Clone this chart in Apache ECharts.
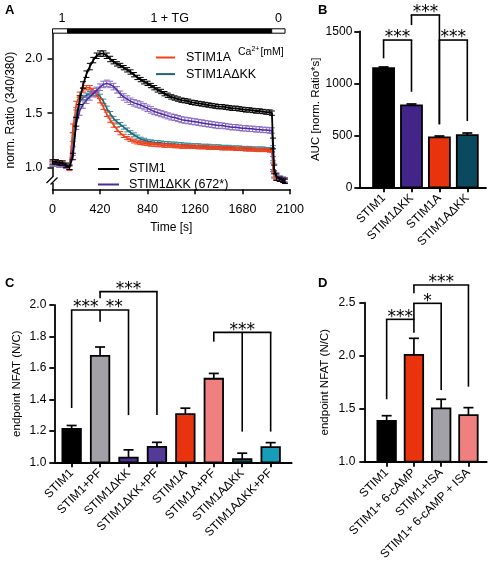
<!DOCTYPE html>
<html><head><meta charset="utf-8">
<script src="https://cdn.jsdelivr.net/npm/echarts@6/dist/echarts.min.js"></script>
<style>html,body{margin:0;padding:0;background:#fff}#c{width:490px;height:563px}</style>
</head><body><div id="c"></div>
<script>
// ---------- Panel A data ----------
const timeSec = [0,30,60,90,120,150,180,210,240,270,300,330,360,390,420,450,480,510,540,570,600,630,660,690,720,750,780,810,840,870,900,930,960,990,1020,1050,1080,1110,1140,1170,1200,1230,1260,1290,1320,1350,1380,1410,1440,1470,1500,1530,1560,1590,1620,1650,1680,1710,1740,1770,1800,1830,1860,1890,1920,1940,1950,1960,1980,2010,2040,2055];
const ratioSTIM1 = [1.05,1.05,1.04,1.04,1.02,1.00,1.10,1.42,1.62,1.76,
1.86,1.93,1.99,2.03,2.05,2.05,2.03,2.00,1.975,1.955,
1.94,1.92,1.90,1.88,1.855,1.83,1.81,1.79,1.775,1.755,
1.735,1.715,1.70,1.68,1.665,1.65,1.64,1.63,1.62,1.615,
1.61,1.60,1.595,1.59,1.585,1.58,1.575,1.57,1.565,1.56,
1.56,1.555,1.55,1.545,1.545,1.54,1.535,1.53,1.53,1.525,
1.52,1.52,1.515,1.51,1.51,1.50,1.22,0.98,0.91,0.89,
0.88,0.87];
const ratioSTIM1dKK = [1.03,1.04,1.02,1.02,1.01,1.00,1.15,1.40,1.52,1.58,
1.62,1.65,1.68,1.71,1.74,1.765,1.775,1.765,1.745,1.715,
1.675,1.65,1.63,1.61,1.595,1.585,1.575,1.56,1.545,1.53,
1.515,1.505,1.495,1.485,1.475,1.465,1.46,1.45,1.44,1.435,
1.43,1.425,1.42,1.415,1.41,1.405,1.40,1.395,1.39,1.385,
1.385,1.38,1.375,1.37,1.37,1.365,1.36,1.36,1.355,1.355,
1.35,1.35,1.345,1.345,1.34,1.34,1.15,0.99,0.92,0.90,
0.89,0.88];
const ratioSTIM1A = [1.04,1.05,1.04,1.03,1.01,0.99,1.36,1.58,1.67,1.715,
1.735,1.735,1.71,1.67,1.615,1.555,1.49,1.435,1.39,1.35,
1.315,1.29,1.27,1.255,1.24,1.23,1.225,1.22,1.215,1.21,
1.21,1.205,1.205,1.20,1.20,1.20,1.195,1.195,1.19,1.19,
1.19,1.19,1.19,1.185,1.185,1.185,1.18,1.18,1.18,1.18,
1.175,1.175,1.175,1.175,1.17,1.17,1.17,1.165,1.165,1.165,
1.16,1.16,1.16,1.16,1.155,1.155,1.00,0.93,0.90,0.89,
0.885,0.88];
const ratioSTIM1AdKK = [1.03,1.03,1.02,1.02,1.01,1.00,1.28,1.50,1.60,1.645,
1.665,1.68,1.685,1.68,1.655,1.61,1.545,1.495,1.45,1.42,
1.395,1.37,1.345,1.32,1.30,1.28,1.26,1.25,1.24,1.235,
1.23,1.23,1.225,1.22,1.22,1.215,1.215,1.21,1.21,1.205,
1.205,1.20,1.20,1.20,1.195,1.195,1.195,1.19,1.19,1.19,
1.185,1.185,1.185,1.18,1.18,1.18,1.175,1.175,1.175,1.17,
1.17,1.17,1.17,1.165,1.165,1.165,1.02,0.94,0.91,0.90,
0.89,0.885];
const semSTIM1 = [0.02,0.02,0.02,0.02,0.02,0.02,0.03,0.04,0.04,0.03,
0.03,0.03,0.025,0.025,0.025,0.025,0.025,0.025,0.02,0.02,
0.02,0.02,0.02,0.02,0.02,0.02,0.02,0.02,0.02,0.02,
0.02,0.02,0.02,0.02,0.02,0.02,0.02,0.02,0.02,0.02,
0.02,0.02,0.02,0.02,0.02,0.02,0.02,0.02,0.02,0.02,
0.02,0.02,0.02,0.02,0.02,0.02,0.02,0.02,0.02,0.02,
0.02,0.02,0.02,0.02,0.02,0.02,0.05,0.04,0.03,0.02,
0.02,0.02];
const semSTIM1dKK = [0.02,0.02,0.02,0.02,0.02,0.02,0.04,0.05,0.04,0.035,
0.03,0.03,0.03,0.03,0.03,0.03,0.03,0.03,0.03,0.03,
0.03,0.03,0.03,0.03,0.03,0.03,0.03,0.03,0.03,0.03,
0.028,0.028,0.028,0.028,0.028,0.028,0.028,0.028,0.028,0.028,
0.028,0.028,0.028,0.028,0.028,0.028,0.028,0.028,0.028,0.028,
0.025,0.025,0.025,0.025,0.025,0.025,0.025,0.025,0.025,0.025,
0.025,0.025,0.025,0.025,0.025,0.025,0.05,0.04,0.03,0.02,
0.02,0.02];
const semSTIM1A = [0.02,0.02,0.02,0.02,0.02,0.02,0.04,0.03,0.025,0.02,
0.02,0.02,0.02,0.02,0.02,0.02,0.02,0.02,0.02,0.02,
0.015,0.015,0.015,0.015,0.015,0.015,0.015,0.015,0.015,0.015,
0.015,0.015,0.015,0.015,0.015,0.015,0.015,0.015,0.015,0.015,
0.015,0.015,0.015,0.015,0.015,0.015,0.015,0.015,0.015,0.015,
0.015,0.015,0.015,0.015,0.015,0.015,0.015,0.015,0.015,0.015,
0.015,0.015,0.015,0.015,0.015,0.015,0.04,0.03,0.02,0.02,
0.02,0.02];
const semSTIM1AdKK = [0.02,0.02,0.02,0.02,0.02,0.02,0.04,0.03,0.025,0.02,
0.02,0.02,0.02,0.02,0.02,0.02,0.02,0.02,0.02,0.02,
0.018,0.018,0.018,0.018,0.018,0.018,0.018,0.018,0.018,0.018,
0.018,0.018,0.018,0.018,0.018,0.018,0.018,0.018,0.018,0.018,
0.018,0.018,0.018,0.018,0.018,0.018,0.018,0.018,0.018,0.018,
0.018,0.018,0.018,0.018,0.018,0.018,0.018,0.018,0.018,0.018,
0.018,0.018,0.018,0.018,0.018,0.018,0.04,0.03,0.02,0.02,
0.02,0.02];
const yTicksA = [1.0, 1.5, 2.0];
const caSegments = [[0,134],[134,1938],[1938,2056]];
const caLabels = ['1','1 + TG','0'];

// ---------- Panel B data ----------
const catsB = ['STIM1','STIM1ΔKK','STIM1A','STIM1AΔKK'];
const aucB = [1145, 787, 481, 502];
const aucErrB = [12, 14, 12, 20];
const bracketsB = [
  {legs:[[0,1240],[1,919]], y:1416, labels:[[0.5,'***']]},
  {legs:[[1,1560],[2,606]], y:1657, labels:[[1.5,'***']]},
  {legs:[[2,606],[3,637]], y:1416, labels:[[2.5,'***']]}
];

// ---------- Panel C data ----------
const catsC = ['STIM1','STIM1+PF','STIM1ΔKK','STIM1ΔKK+PF','STIM1A','STIM1A+PF','STIM1AΔKK','STIM1AΔKK+PF'];
const nfatC = [1.213, 1.677, 1.030, 1.098, 1.306, 1.531, 1.020, 1.096];
const nfatErrC = [0.021, 0.056, 0.049, 0.029, 0.038, 0.034, 0.038, 0.029];
const bracketsC = [
  {legs:[[0,1.345],[1,1.894],[2,1.30]], y:1.968, labels:[[0.5,'***'],[1.5,'**']]},
  {legs:[[1,2.043],[3,1.30]], y:2.085, labels:[[2,'***']]},
  {legs:[[5,1.767],[6,1.195],[7,1.195]], y:1.826, labels:[[6,'***']]}
];

// ---------- Panel D data ----------
const catsD = ['STIM1','STIM1+ 6-cAMP','STIM1+ISA','STIM1+ 6-cAMP + ISA'];
const nfatD = [1.384, 2.007, 1.504, 1.440];
const nfatErrD = [0.05, 0.157, 0.085, 0.07];
const bracketsD = [
  {legs:[[0,1.589],[1,2.217]], y:2.343, labels:[[0.5,'***']]},
  {legs:[[1,2.343],[2,1.676]], y:2.494, labels:[[1.5,'*']]},
  {legs:[[1,2.59],[3,1.708]], y:2.667, labels:[[2,'***']]}
];

// ---------- styles ----------
const SANS = "'Liberation Sans',Arial,sans-serif";
const STAR = "'DejaVu Sans',sans-serif";
const colorsB = ['#000000','#432489','#e8330e','#0b4a5e'];
const colorsC = ['#000000','#a3a1a8','#4a2f8c','#533a96','#e8330e','#f08080','#0d4c5c','#169db8'];
const colorsD = ['#000000','#e8330e','#a3a1a8','#f08080'];

const chart = echarts.init(document.getElementById('c'));

function errSeries(name, times, vals, errs, color, z) {
  return {
    type:'custom', name:name, xAxisIndex:0, yAxisIndex:0, z:z, silent:true,
    data: times.map((t,i)=>[t, vals[i], errs[i]]),
    renderItem: function(params, api){
      const t=api.value(0), v=api.value(1), e=api.value(2);
      const lo=api.coord([t, v-e]), hi=api.coord([t, v+e]);
      const c=3, st={stroke:color, lineWidth:1};
      return {type:'group', children:[
        {type:'line', shape:{x1:lo[0],y1:lo[1],x2:hi[0],y2:hi[1]}, style:st},
        {type:'line', shape:{x1:hi[0]-c,y1:hi[1],x2:hi[0]+c,y2:hi[1]}, style:st},
        {type:'line', shape:{x1:lo[0]-c,y1:lo[1],x2:lo[0]+c,y2:lo[1]}, style:st}
      ]};
    }
  };
}
function lineSeries(name, times, vals, color, z, w) {
  return {type:'line', name:name, xAxisIndex:0, yAxisIndex:0, z:z, color:color,
    showSymbol:false, symbol:'none', lineStyle:{color:color, width:w},
    data: times.map((t,i)=>[t, vals[i]])};
}
function barSeries(gi, vals, errs, colors, yMin, w, capHalf) {
  return {
    type:'custom', xAxisIndex:gi, yAxisIndex:gi, z:5, silent:true,
    data: vals.map((v,i)=>[i, v, errs[i]]),
    renderItem: function(params, api){
      const x=api.value(0), v=api.value(1), e=api.value(2);
      const top=api.coord([x,v]), base=api.coord([x,yMin]), hi=api.coord([x,v+e]);
      const st={stroke:'#000', lineWidth:1.7};
      return {type:'group', children:[
        {type:'line', shape:{x1:top[0],y1:top[1],x2:hi[0],y2:hi[1]}, style:st},
        {type:'line', shape:{x1:hi[0]-capHalf,y1:hi[1],x2:hi[0]+capHalf,y2:hi[1]}, style:st},
        {type:'rect', shape:{x:top[0]-w/2, y:top[1], width:w, height:base[1]-top[1]},
          style:{fill:colors[params.dataIndex], stroke:'#000', lineWidth:1.8}}
      ]};
    }
  };
}
function bracketSeries(gi, brackets) {
  return {
    type:'custom', xAxisIndex:gi, yAxisIndex:gi, z:6, silent:true, clip:false,
    data: brackets.map((b)=>[b.legs[0][0], b.y]),
    renderItem: function(params, api){
      const b = brackets[params.dataIndex];
      const st={stroke:'#000', lineWidth:1.6};
      const xs = b.legs.map(l=>l[0]);
      const p1 = api.coord([Math.min.apply(null,xs), b.y]);
      const p2 = api.coord([Math.max.apply(null,xs), b.y]);
      const ch = [{type:'line', shape:{x1:p1[0]-0.8,y1:p1[1],x2:p2[0]+0.8,y2:p2[1]}, style:st}];
      b.labels.forEach(lb=>{
        const p=api.coord([lb[0], b.y]);
        ch.push({type:'text', x:p[0], y:p[1]-2, style:{text:lb[1],
          fill:'#000', font:'17px '+STAR, textAlign:'center', textVerticalAlign:'middle'}});
      });
      b.legs.forEach(l=>{
        const a=api.coord([l[0], b.y]), e=api.coord([l[0], l[1]]);
        ch.push({type:'line', shape:{x1:a[0],y1:a[1],x2:e[0],y2:e[1]}, style:st});
      });
      return {type:'group', children:ch};
    }
  };
}
function catXAxis(gi, cats, min, max) {
  const idx = cats.map((c,i)=>i);
  return {gridIndex:gi, type:'value', min:min, max:max,
    axisLine:{onZero:false, lineStyle:{color:'#000', width:1.8}},
    axisTick:{customValues:idx, length:5, lineStyle:{color:'#000', width:1.8}},
    axisLabel:{customValues:idx, formatter:(v)=>cats[Math.round(v)], rotate:45, margin:9,
      color:'#000', fontSize:12, fontFamily:SANS},
    splitLine:{show:false}};
}
function numYAxis(gi, min, max, interval, dec, name, gap, margin) {
  return {gridIndex:gi, type:'value', min:min, max:max, interval:interval,
    axisLine:{show:true, onZero:false, lineStyle:{color:'#000', width:1.8}},
    axisTick:{show:true, length:5, lineStyle:{color:'#000', width:1.8}},
    axisLabel:{color:'#000', fontSize:12, fontFamily:SANS, margin:margin,
      formatter:(v)=> dec ? v.toFixed(dec) : String(v)},
    splitLine:{show:false},
    name:name, nameLocation:'middle', nameGap:gap, nameRotate:90,
    nameTextStyle:{color:'#000', fontSize:11.5, fontFamily:SANS}};
}

const option = {
  animation:false,
  backgroundColor:'#fff',
  grid:[
    {left:52.5, top:31, width:237.5, height:158.3},
    {left:359.3, top:31.3, width:126.7, height:156},
    {left:54.3, top:305, width:237.4, height:157.3},
    {left:364.3, top:302.7, width:122.4, height:159}
  ],
  xAxis:[
    {gridIndex:0, type:'value', min:0, max:2100, interval:420,
      axisLine:{onZero:false, lineStyle:{color:'#000', width:1.5}},
      axisTick:{length:5, lineStyle:{color:'#000', width:1.5}},
      axisLabel:{color:'#000', fontSize:12.5, fontFamily:SANS, margin:14, formatter:(v)=>String(v)},
      splitLine:{show:false},
      name:'Time [s]', nameLocation:'middle', nameGap:32,
      nameTextStyle:{color:'#000', fontSize:12, fontFamily:SANS}},
    catXAxis(1, catsB, -0.87, 3.67),
    catXAxis(2, catsC, -0.61, 7.74),
    catXAxis(3, catsD, -0.82, 3.67)
  ],
  yAxis:[
    {gridIndex:0, type:'value', min:0.797, max:2.2585,
      axisLine:{show:true, onZero:false, lineStyle:{color:'#000', width:1.5}},
      axisTick:{show:true, customValues:yTicksA, length:5, lineStyle:{color:'#000', width:1.5}},
      axisLabel:{customValues:yTicksA, color:'#000', fontSize:12.5, fontFamily:SANS, margin:10,
        formatter:(v)=>v.toFixed(1)},
      splitLine:{show:false},
      name:'norm. Ratio (340/380)', nameLocation:'middle', nameGap:36, nameRotate:90,
      nameTextStyle:{color:'#000', fontSize:12, fontFamily:SANS}},
    numYAxis(1, 0, 1500, 500, 0, 'AUC [norm. Ratio*s]', 26, 7),
    numYAxis(2, 1.0, 2.0, 0.2, 1, 'endpoint NFAT (N/C)', 31, 8),
    numYAxis(3, 1.0, 2.5, 0.5, 1, 'endpoint NFAT (N/C)', 33, 9)
  ],
  legend:[
    {data:['STIM1A','STIM1AΔKK'], left:151, top:45.5, orient:'vertical', icon:'rect',
      itemWidth:19, itemHeight:2, itemGap:2.6, selectedMode:false,
      textStyle:{color:'#000', fontSize:12.5, fontFamily:SANS, lineHeight:14, padding:[0,0,0,6]}},
    {data:['STIM1','STIM1ΔKK (672*)'], left:93, top:157, orient:'vertical', icon:'rect',
      itemWidth:21, itemHeight:2, itemGap:1.5, selectedMode:false,
      textStyle:{color:'#000', fontSize:12.5, fontFamily:SANS, lineHeight:14, padding:[0,0,0,5]}}
  ],
  series:[
    errSeries('errAdKK', timeSec, ratioSTIM1AdKK, semSTIM1AdKK, '#3a8c9c', 2),
    lineSeries('STIM1AΔKK', timeSec, ratioSTIM1AdKK, '#1d6677', 3, 1.5),
    errSeries('errA', timeSec, ratioSTIM1A, semSTIM1A, '#f2401a', 4),
    lineSeries('STIM1A', timeSec, ratioSTIM1A, '#f2401a', 5, 1.5),
    errSeries('errdKK', timeSec, ratioSTIM1dKK, semSTIM1dKK, '#8c6bc9', 6),
    lineSeries('STIM1ΔKK (672*)', timeSec, ratioSTIM1dKK, '#4a2a9c', 7, 1.5),
    errSeries('errS1', timeSec, ratioSTIM1, semSTIM1, '#000000', 8),
    lineSeries('STIM1', timeSec, ratioSTIM1, '#000000', 9, 1.8),
    {type:'custom', xAxisIndex:0, yAxisIndex:0, z:10, clip:false, silent:true,
      data: caSegments.map((s)=>[s[0], s[1]]),
      renderItem: function(params, api){
        const a=api.coord([api.value(0), 2.2585]), b=api.coord([api.value(1), 2.2585]);
        const black = params.dataIndex===1;
        return {type:'group', children:[
          {type:'rect', shape:{x:a[0], y:a[1]-2.2, width:b[0]-a[0], height:4.4},
            style:{fill:black?'#000':'#fff', stroke:'#000', lineWidth:1}},
          {type:'text', x:(a[0]+b[0])/2 + (params.dataIndex===0?2:0), y:a[1]-12, style:{text:caLabels[params.dataIndex],
            fill:'#000', font:'12.5px '+SANS, textAlign:'center', textVerticalAlign:'middle'}}
        ]};
      }},
    barSeries(1, aucB, aucErrB, colorsB, 0, 21, 5),
    bracketSeries(1, bracketsB),
    barSeries(2, nfatC, nfatErrC, colorsC, 1.0, 18.5, 5),
    bracketSeries(2, bracketsC),
    barSeries(3, nfatD, nfatErrD, colorsD, 1.0, 18.5, 5),
    bracketSeries(3, bracketsD)
  ],
  graphic:[
    {type:'text', left:5, top:4, style:{text:'A', font:'bold 13px '+SANS, fill:'#000'}},
    {type:'text', left:318, top:4, style:{text:'B', font:'bold 13px '+SANS, fill:'#000'}},
    {type:'text', left:5, top:277, style:{text:'C', font:'bold 13px '+SANS, fill:'#000'}},
    {type:'text', left:318, top:277, style:{text:'D', font:'bold 13px '+SANS, fill:'#000'}},
    {type:'text', x:238, y:46, style:{text:'{n|Ca}{s|2+}{n|[mM]}', fill:'#000',
      rich:{n:{fontSize:10.5, fontFamily:SANS}, s:{fontSize:7, fontFamily:SANS, padding:[0,1,6,0]}}}},
    {type:'rect', z:100, shape:{x:49.5, y:176.5, width:6, height:6.5}, style:{fill:'#fff'}},
    {type:'line', z:101, shape:{x1:46.5,y1:183,x2:53.5,y2:176}, style:{stroke:'#000', lineWidth:1.3}},
    {type:'line', z:101, shape:{x1:50.5,y1:184.5,x2:57.5,y2:177.5}, style:{stroke:'#000', lineWidth:1.3}}
  ]
};
chart.setOption(option);
</script>
</body></html>
